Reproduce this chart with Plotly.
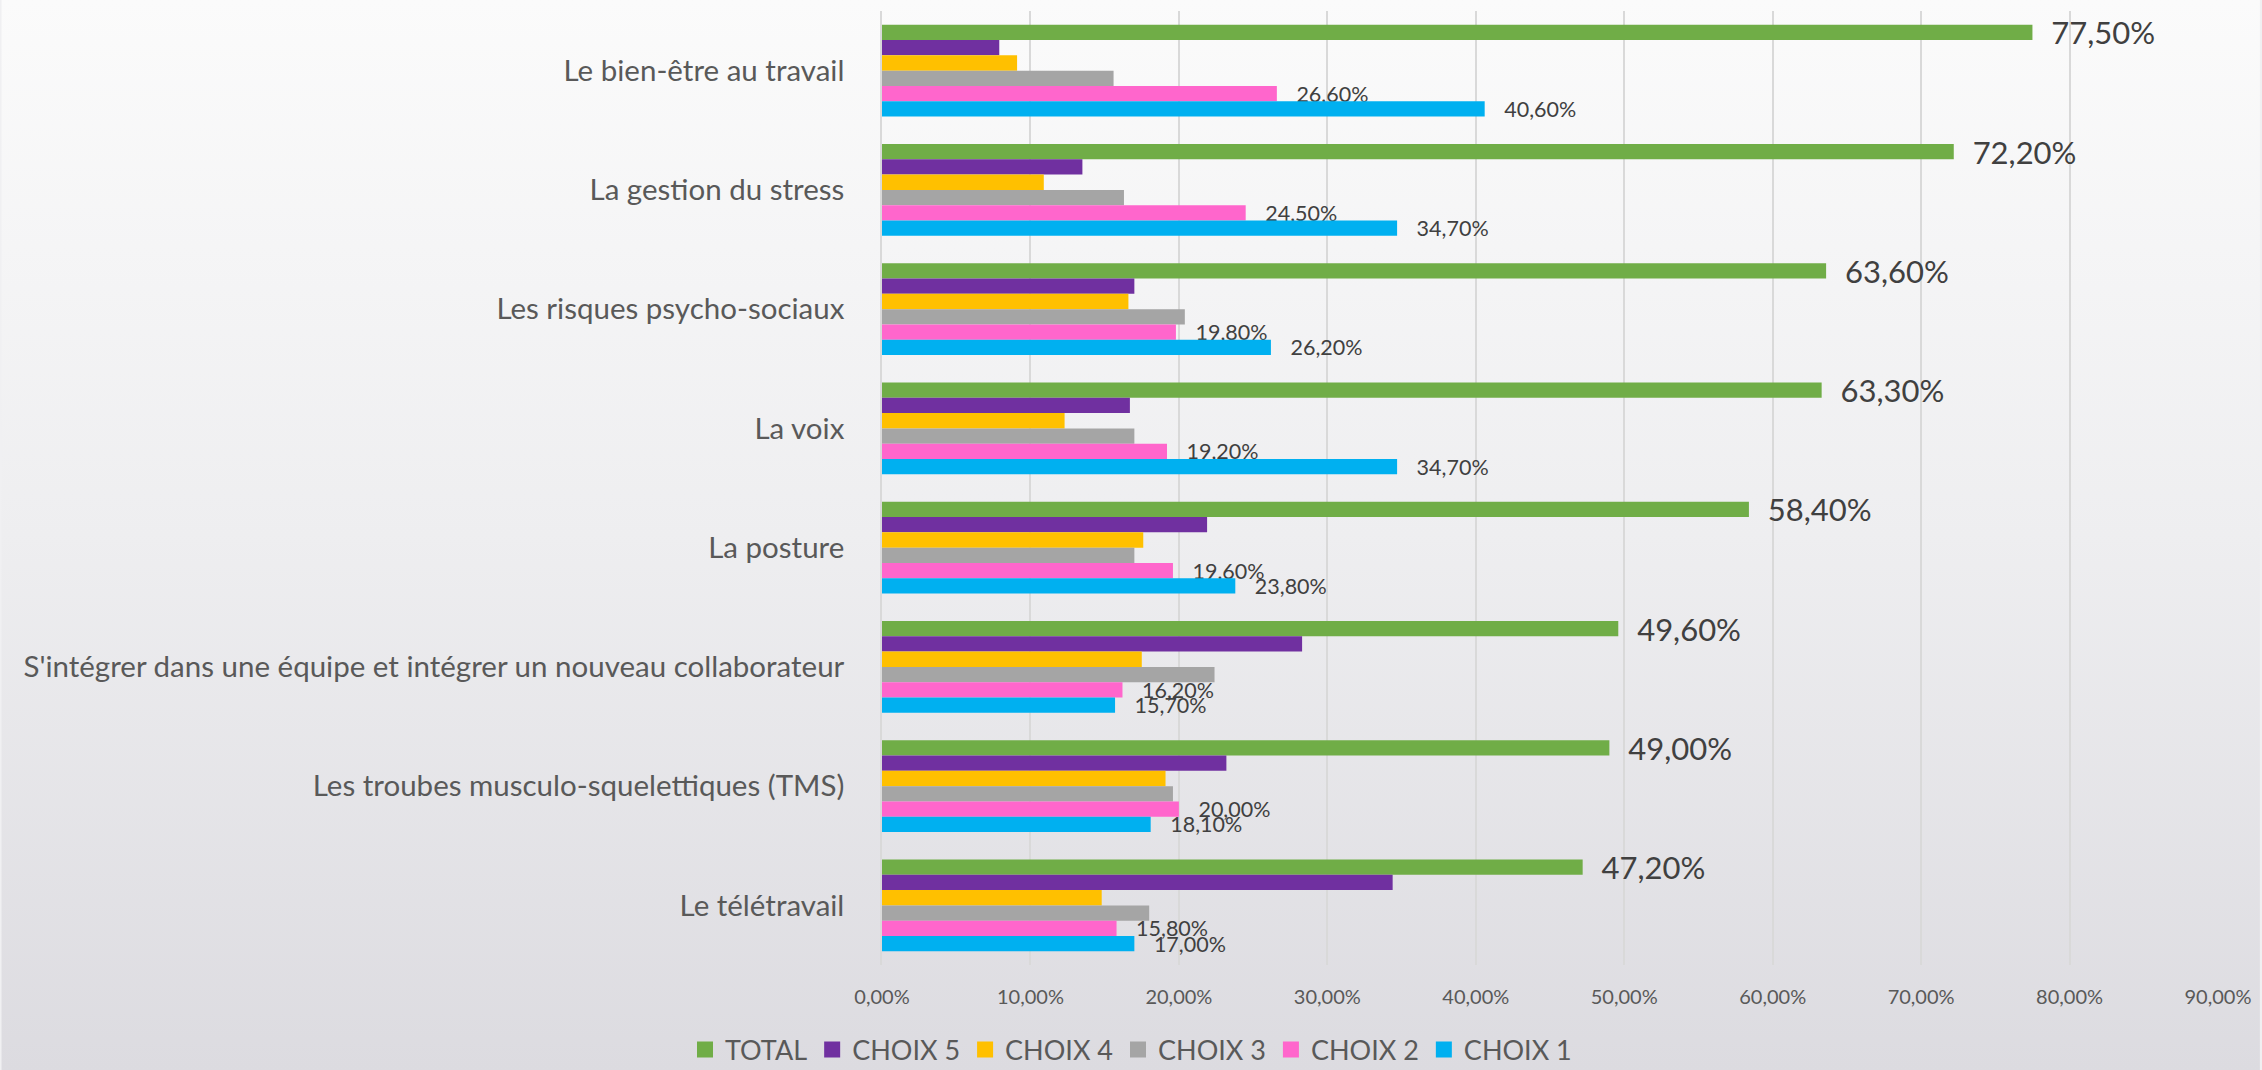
import base64
import plotly.graph_objects as go

categories = [
    "Le bien-être au travail",
    "La gestion du stress",
    "Les risques psycho-sociaux",
    "La voix",
    "La posture",
    "S'intégrer dans une équipe et intégrer un nouveau collaborateur",
    "Les troubes musculo-squelettiques (TMS)",
    "Le télétravail",
]

series_names = ["TOTAL", "CHOIX 5", "CHOIX 4", "CHOIX 3", "CHOIX 2", "CHOIX 1"]

total   = [0.775, 0.722, 0.636, 0.633, 0.584, 0.496, 0.490, 0.472]
choix5  = [0.079, 0.135, 0.170, 0.167, 0.219, 0.283, 0.232, 0.344]
choix4  = [0.091, 0.109, 0.166, 0.123, 0.176, 0.175, 0.191, 0.148]
choix3  = [0.156, 0.163, 0.204, 0.170, 0.170, 0.224, 0.196, 0.180]
choix2  = [0.266, 0.245, 0.198, 0.192, 0.196, 0.162, 0.200, 0.158]
choix1  = [0.406, 0.347, 0.262, 0.347, 0.238, 0.157, 0.181, 0.170]

series_values = [total, choix5, choix4, choix3, choix2, choix1]
colors = ["#70AD47", "#7030A0", "#FFC000", "#A5A5A5", "#FF66CC", "#00B0F0"]
label_size = {"TOTAL": 31, "CHOIX 2": 21.5, "CHOIX 1": 21.5}
label_pad = {"TOTAL": "\u00a0\u00a0", "CHOIX 2": "\u00a0\u00a0\u00a0", "CHOIX 1": "\u00a0\u00a0\u00a0"}

x_ticks = [0, 0.1, 0.2, 0.3, 0.4, 0.5, 0.6, 0.7, 0.8, 0.9]

FONT = "Lato"
W, H = 2262, 1070
ML, MR, MT, MB = 882, 42, 11, 105

fig = go.Figure()
for name, vals, col in zip(series_names, series_values, colors):
    kw = {}
    if name in label_size:
        kw = dict(
            texttemplate=label_pad[name] + "%{x:.2%}",
            textposition="outside",
            textfont=dict(family=FONT, size=label_size[name], color="#404040"),
            constraintext="none",
            cliponaxis=False,
        )
    fig.add_trace(go.Bar(
        name=name, x=vals, y=categories, orientation="h",
        marker=dict(color=col, line=dict(width=0)),
        showlegend=False, hoverinfo="x+y+name", **kw,
    ))

# legend entries with larger square swatches
for name, col in zip(series_names, colors):
    fig.add_trace(go.Scatter(
        name=name, x=[None], y=[None], mode="markers",
        marker=dict(symbol="square", size=18, color=col),
        showlegend=True,
    ))

svg = (
    f"<svg xmlns='http://www.w3.org/2000/svg' width='{W}' height='{H}' "
    f"viewBox='0 0 {W} {H}' preserveAspectRatio='none'>"
    "<defs><linearGradient id='g' x1='0' y1='0' x2='0' y2='1'>"
    "<stop offset='0' stop-color='#fbfbfb'/>"
    "<stop offset='0.5' stop-color='#eeeef0'/>"
    "<stop offset='1' stop-color='#dcdbe0'/>"
    "</linearGradient></defs>"
    f"<rect width='{W}' height='{H}' fill='url(#g)'/></svg>"
)
src = "data:image/svg+xml;base64," + base64.b64encode(svg.encode()).decode()
pw = W - ML - MR
ph = H - MT - MB

fig.update_layout(
    width=W, height=H,
    margin=dict(l=ML, r=MR, t=MT, b=MB, pad=0),
    barmode="group", bargap=0.23, bargroupgap=0,
    separators=", ",
    paper_bgcolor="#f0f0f2", plot_bgcolor="rgba(0,0,0,0)",
    font=dict(family=FONT, color="#595959"),
    images=[dict(
        source=src, xref="paper", yref="paper",
        x=-ML / pw, y=1 + MT / ph, sizex=W / pw, sizey=H / ph,
        xanchor="left", yanchor="top", sizing="stretch", layer="below",
    )],
    xaxis=dict(
        range=[0, 0.9], tickvals=x_ticks, tickformat=".2%",
        showgrid=True, gridcolor="#d9d9d9", gridwidth=1.5,
        zeroline=False, showline=False, ticks="",
        tickfont=dict(family=FONT, size=20, color="#595959"),
        ticklabelstandoff=18, fixedrange=True,
    ),
    yaxis=dict(
        type="category", categoryorder="array", categoryarray=categories,
        autorange="reversed",
        showgrid=False, zeroline=False, showline=True, linecolor="#d9d9d9",
        linewidth=1.5, ticks="",
        tickfont=dict(family=FONT, size=29.5, color="#595959"),
        ticklabelstandoff=30, fixedrange=True,
    ),
    legend=dict(
        orientation="h", xref="container", yref="container",
        x=0.5, xanchor="center", y=20 / H, yanchor="middle",
        font=dict(family=FONT, size=27, color="#595959"),
        itemwidth=30, bgcolor="rgba(0,0,0,0)",
        tracegroupgap=0,
    ),
)

fig.write_html("out.html")
